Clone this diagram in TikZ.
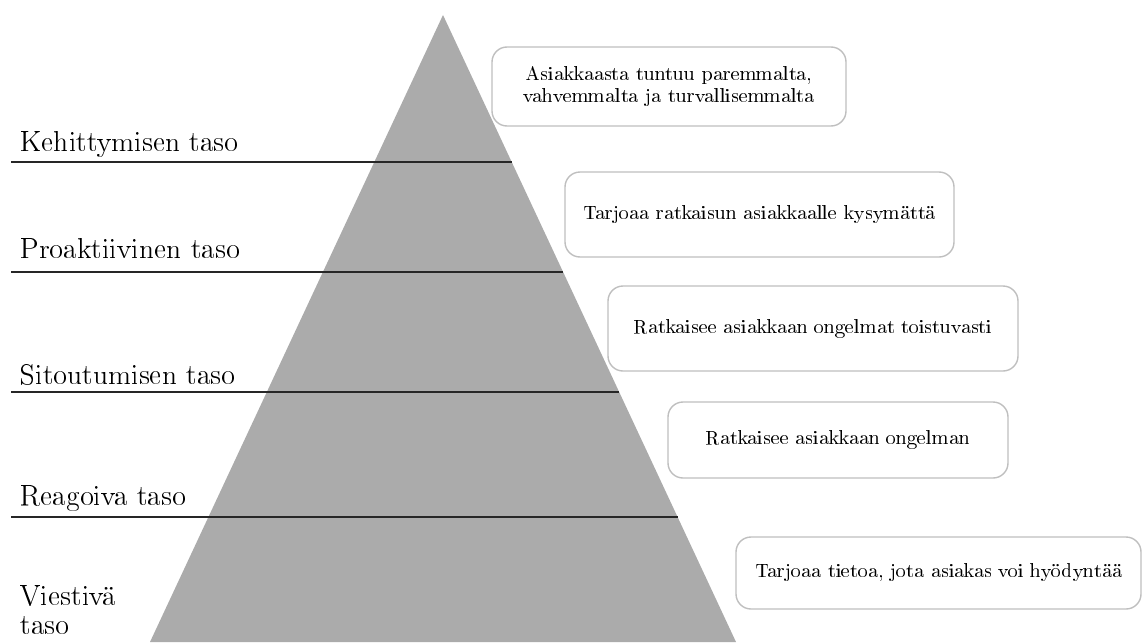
\documentclass[tikz,border=0pt]{standalone}
\usepackage[T1]{fontenc}
\begin{document}
\begin{tikzpicture}[x=0.5pt,y=-0.5pt,
    tasoline/.style={line width=1pt,black!85},
    tasolabel/.style={anchor=base west,inner sep=0pt,font=\fontsize{14.4}{14.5}\selectfont},
    kuvaus/.style={draw=black!25,line width=0.7pt,rounded corners=7.5pt,fill=white,inner xsep=2pt,align=center,font=\fontsize{10.2}{11}\selectfont}]
        \useasboundingbox (0,0) rectangle (1143,642);

        % pyramid
        \fill[black!33] (443,15) coordinate (top) -- (150,642) -- (736,642) -- cycle;

        % levels
        \draw[tasoline] (11,162) -- (512,162);
        \draw[tasoline] (11,272) -- (563,272);
        \draw[tasoline] (11,392) -- (619,392);
        \draw[tasoline] (11,517) -- (678,517);

        \node[tasolabel] (kehitys) at (20,151) {Kehittymisen taso};
        \node[tasolabel] (proakt) at (20,258) {Proaktiivinen taso};
        \node[tasolabel] (sitout) at (20,384) {Sitoutumisen taso};
        \node[tasolabel] (reagoi) at (20,505) {Reagoiva taso};
        \node[tasolabel,anchor=south west,align=left] (viesti) at (20,635) {Viestivä\\taso};

        % descriptions
        \node[kuvaus,minimum width=177pt,minimum height=39.5pt] (k1) at (669,86.5) {Asiakkaasta tuntuu paremmalta,\\vahvemmalta ja turvallisemmalta};
        \node[kuvaus,minimum width=194.5pt,minimum height=42.5pt] (k2) at (759.5,214.5) {Tarjoaa ratkaisun asiakkaalle kysymättä};
        \node[kuvaus,minimum width=205pt,minimum height=42.5pt] (k3) at (813,328.5) {Ratkaisee asiakkaan ongelmat toistuvasti};
        \node[kuvaus,minimum width=170pt,minimum height=38pt] (k4) at (838,440) {Ratkaisee asiakkaan ongelman};
        \node[kuvaus,minimum width=202.5pt,minimum height=36pt] (k5) at (938.5,573) {Tarjoaa tietoa, jota asiakas voi hyödyntää};
\end{tikzpicture}
\end{document}
